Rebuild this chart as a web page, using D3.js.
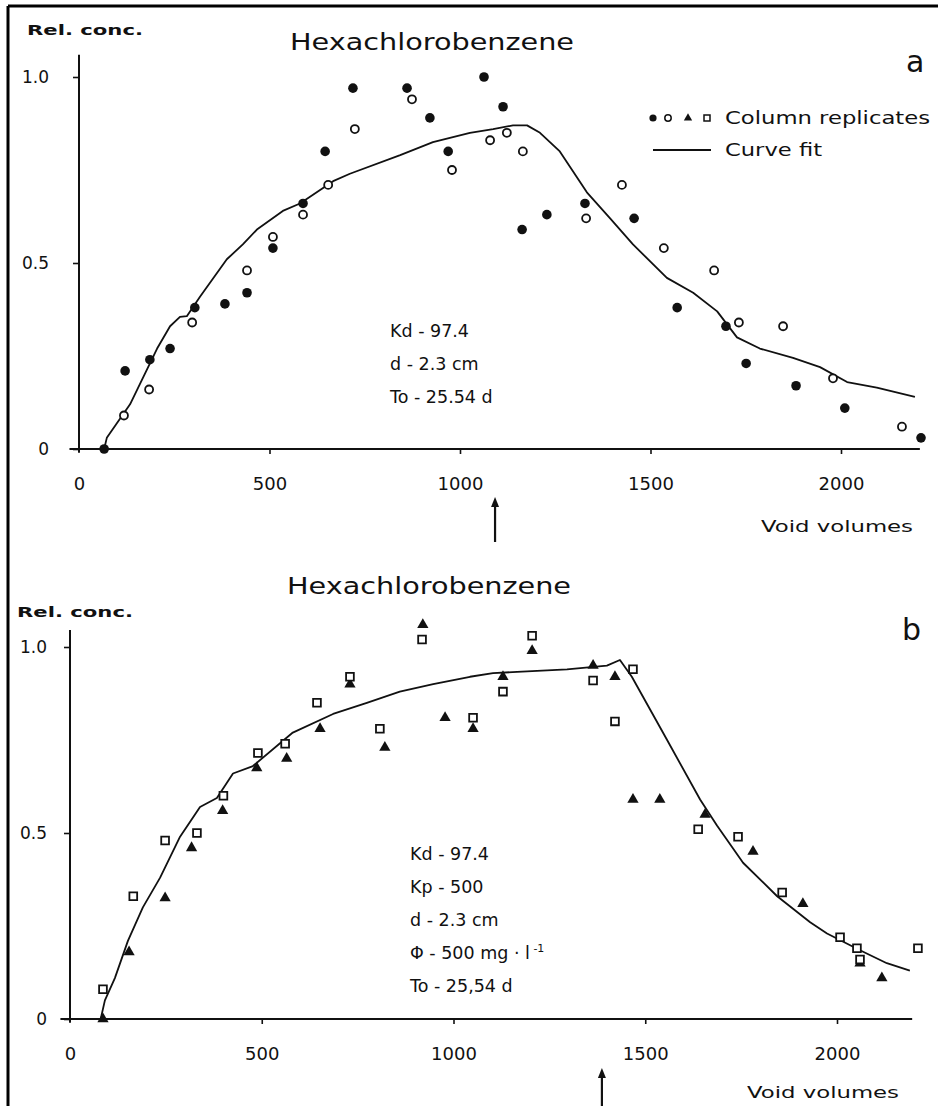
<!DOCTYPE html>
<html>
<head>
<meta charset="utf-8">
<script src="https://cdn.jsdelivr.net/npm/d3@7"></script>
<style>
  body { margin: 0; background: #fff; }
  svg text { font-family: "DejaVu Sans", sans-serif; fill: #111; }
</style>
</head>
<body>
<script>
// Chart setup
const w = 938;
const h = 1106;

// ---- panel a data ----
const aFilledX = [66, 121, 186, 239, 304, 383, 441, 509, 588, 646, 719, 861, 921, 969, 1063, 1113, 1163, 1228, 1328, 1457, 1570, 1698, 1751, 1882, 2010, 2210];
const aFilledY = [0, 0.21, 0.24, 0.27, 0.38, 0.39, 0.42, 0.54, 0.66, 0.80, 0.97, 0.97, 0.89, 0.80, 1.00, 0.92, 0.59, 0.63, 0.66, 0.62, 0.38, 0.33, 0.23, 0.17, 0.11, 0.03];
const aOpenX = [118, 184, 297, 441, 509, 588, 654, 724, 874, 979, 1079, 1123, 1165, 1331, 1425, 1535, 1667, 1732, 1848, 1979, 2160];
const aOpenY = [0.09, 0.16, 0.34, 0.48, 0.57, 0.63, 0.71, 0.86, 0.94, 0.75, 0.83, 0.85, 0.80, 0.62, 0.71, 0.54, 0.48, 0.34, 0.33, 0.19, 0.06];
const aFitX = [66, 73, 134, 205, 239, 265, 283, 318, 388, 430, 467, 535, 580, 667, 711, 843, 929, 1026, 1087, 1139, 1176, 1210, 1262, 1333, 1394, 1454, 1543, 1612, 1675, 1727, 1787, 1874, 1945, 2016, 2094, 2194];
const aFitY = [0, 0.03, 0.12, 0.27, 0.33, 0.355, 0.357, 0.41, 0.51, 0.55, 0.59, 0.64, 0.66, 0.72, 0.74, 0.79, 0.825, 0.85, 0.86, 0.87, 0.87, 0.85, 0.80, 0.69, 0.62, 0.55, 0.46, 0.42, 0.37, 0.30, 0.27, 0.245, 0.22, 0.18, 0.165, 0.14];
const aNotes = ["Kd - 97.4", "d - 2.3 cm", "To - 25.54 d"];
const aArrow = 1092;

// ---- panel b data ----
const bTriX = [86, 154, 248, 317, 398, 487, 565, 652, 730, 821, 920, 978, 1051, 1129, 1205, 1364, 1421, 1468, 1538, 1656, 1781, 1911, 2060, 2117];
const bTriY = [0, 0.18, 0.325, 0.46, 0.56, 0.675, 0.70, 0.78, 0.90, 0.73, 1.06, 0.81, 0.78, 0.92, 0.99, 0.95, 0.92, 0.59, 0.59, 0.55, 0.45, 0.31, 0.15, 0.11];
const bSqX = [86, 165, 248, 331, 400, 490, 561, 644, 730, 808, 918, 1051, 1129, 1205, 1364, 1421, 1468, 1638, 1742, 1857, 2008, 2052, 2060, 2211];
const bSqY = [0.08, 0.33, 0.48, 0.50, 0.60, 0.715, 0.74, 0.85, 0.92, 0.78, 1.02, 0.81, 0.88, 1.03, 0.91, 0.80, 0.94, 0.51, 0.49, 0.34, 0.22, 0.19, 0.16, 0.19];
const bFitX = [80, 91, 117, 151, 190, 235, 287, 339, 383, 425, 477, 581, 686, 774, 860, 947, 1043, 1103, 1166, 1296, 1400, 1434, 1465, 1557, 1643, 1687, 1755, 1844, 1930, 1974, 2060, 2130, 2190];
const bFitY = [0, 0.05, 0.11, 0.21, 0.30, 0.38, 0.49, 0.57, 0.594, 0.66, 0.68, 0.77, 0.82, 0.85, 0.88, 0.90, 0.92, 0.93, 0.933, 0.94, 0.95, 0.965, 0.92, 0.75, 0.59, 0.52, 0.42, 0.33, 0.26, 0.23, 0.185, 0.15, 0.13];
const bNotes = ["Kd - 97.4", "Kp - 500", "d - 2.3 cm", "Φ - 500 mg · l", "To - 25,54 d"];
const bArrow = 1387;

// shared tick labels
const xTicks = [0, 500, 1000, 1500, 2000];
const yTicks = [0, 0.5, 1.0];
const title = "Hexachlorobenzene";

const svg = d3.select("body")
    .append("svg")
    .attr("width", w)
    .attr("height", h)

// frame (top + left edge of the scanned page)
svg.append("line").attr("x1", 8).attr("x2", w).attr("y1", 6).attr("y2", 6)
    .attr("stroke", "#000").attr("stroke-width", 3)
svg.append("line").attr("x1", 8).attr("x2", 8).attr("y1", 6).attr("y2", h)
    .attr("stroke", "#000").attr("stroke-width", 3)

function zip(xs, ys) { return xs.map((x, i) => [x, ys[i]]) }

function drawPanel(p) {
    const x = d3.scaleLinear().domain([0, 2000]).range([p.x0, p.x2000])
    const y = d3.scaleLinear().domain([0, 1]).range([p.y0, p.y1])
    const g = svg.append("g")

    // axes lines
    g.append("line").attr("x1", x(-25)).attr("x2", x(p.xEnd))
        .attr("y1", y(0)).attr("y2", y(0)).attr("stroke", "#111").attr("stroke-width", 2)
    g.append("line").attr("x1", x(0)).attr("x2", x(0))
        .attr("y1", y(-0.01)).attr("y2", y(p.yTop)).attr("stroke", "#111").attr("stroke-width", 2)

    const xAxis = d3.axisBottom(x).tickValues(xTicks).tickSize(5).tickPadding(23).tickFormat(d3.format("d"))
    const yAxis = d3.axisLeft(y).tickValues(yTicks).tickSize(6).tickPadding(p.yPad)
        .tickFormat(d => d === 0 ? "0" : d.toFixed(1))

    const gx = g.append("g").attr("transform", `translate(0,${y(0)})`).call(xAxis)
    const gy = g.append("g").attr("transform", `translate(${x(0)},0)`).call(yAxis)
    for (const a of [gx, gy]) {
        a.select(".domain").remove()
        a.selectAll("line").attr("stroke", "#111").attr("stroke-width", 1.6)
        a.selectAll("text").attr("font-family", "DejaVu Sans").attr("fill", "#111")
    }
    gx.selectAll("text").attr("font-size", 18)
    gy.selectAll("text").attr("font-size", 17)
    gx.selectAll(".tick").filter(d => d === 0).select("line").remove()

    // curve fit
    g.append("path")
        .datum(zip(p.fitX, p.fitY))
        .attr("fill", "none").attr("stroke", "#111").attr("stroke-width", 1.8)
        .attr("stroke-linejoin", "round")
        .attr("d", d3.line().x(d => x(d[0])).y(d => y(d[1])))

    // replicate markers
    p.series.forEach(s => {
        const pts = zip(s.x, s.y)
        if (s.kind === "filled") {
            g.selectAll(null).data(pts).join("circle")
                .attr("cx", d => x(d[0])).attr("cy", d => y(d[1])).attr("r", 4.8).attr("fill", "#111")
        } else if (s.kind === "open") {
            g.selectAll(null).data(pts).join("circle")
                .attr("cx", d => x(d[0])).attr("cy", d => y(d[1])).attr("r", 4)
                .attr("fill", "#fff").attr("stroke", "#111").attr("stroke-width", 1.8)
        } else if (s.kind === "tri") {
            g.selectAll(null).data(pts).join("path")
                .attr("transform", d => `translate(${x(d[0])},${y(d[1])})`)
                .attr("d", d3.symbol(d3.symbolTriangle).size(55)).attr("fill", "#111")
        } else {
            g.selectAll(null).data(pts).join("path")
                .attr("transform", d => `translate(${x(d[0])},${y(d[1])})`)
                .attr("d", d3.symbol(d3.symbolSquare).size(60))
                .attr("fill", "#fff").attr("stroke", "#111").attr("stroke-width", 1.8)
        }
    })

    // texts
    g.append("text").attr("x", p.relX).attr("y", p.relY).attr("font-size", 14).attr("font-weight", "bold")
        .attr("textLength", 116).attr("lengthAdjust", "spacingAndGlyphs").text("Rel. conc.")
    g.append("text").attr("x", p.titleX).attr("y", p.titleY).attr("font-size", 23)
        .attr("textLength", 284).attr("lengthAdjust", "spacingAndGlyphs").text(title)
    g.append("text").attr("x", p.letterX).attr("y", p.letterY).attr("font-size", 30).text(p.letter)
    g.append("text").attr("x", p.vvX).attr("y", p.vvY).attr("font-size", 16)
        .attr("textLength", 152).attr("lengthAdjust", "spacingAndGlyphs").text("Void volumes")

    const notes = g.append("g")
    p.notes.forEach((t, i) => {
        const tx = notes.append("text").attr("x", p.noteX).attr("y", p.noteY + i * p.noteStep)
            .attr("font-size", 17.5).text(t)
        if (t.startsWith("Φ")) {
            tx.append("tspan").attr("dy", -7).attr("font-size", 11).text(" -1")
        }
    })

    // arrow marking the end of the pulse
    const ax = x(p.arrow)
    g.append("line").attr("x1", ax).attr("x2", ax).attr("y1", p.arrowTop + 6).attr("y2", p.arrowBot)
        .attr("stroke", "#111").attr("stroke-width", 2.2)
    g.append("path").attr("d", `M${ax - 4},${p.arrowTop + 10}L${ax},${p.arrowTop}L${ax + 4},${p.arrowTop + 10}Z`)
        .attr("fill", "#111")
    return { x, y, g }
}

// panel a
const pa = drawPanel({
    x0: 79, x2000: 841, y0: 449, y1: 77, xEnd: 2207, yTop: 1.06, yPad: 24,
    fitX: aFitX, fitY: aFitY,
    series: [{ kind: "filled", x: aFilledX, y: aFilledY }, { kind: "open", x: aOpenX, y: aOpenY }],
    relX: 27, relY: 35, titleX: 290, titleY: 50, letter: "a", letterX: 906, letterY: 72,
    vvX: 761, vvY: 532, notes: aNotes, noteX: 390, noteY: 337, noteStep: 33,
    arrow: aArrow, arrowTop: 497, arrowBot: 542
})

// legend in panel a
const lg = svg.append("g")
lg.append("circle").attr("cx", 653).attr("cy", 118).attr("r", 3.6).attr("fill", "#111")
lg.append("circle").attr("cx", 668).attr("cy", 118).attr("r", 3.2).attr("fill", "#fff").attr("stroke", "#111").attr("stroke-width", 1.5)
lg.append("path").attr("transform", "translate(688,118)").attr("d", d3.symbol(d3.symbolTriangle).size(30)).attr("fill", "#111")
lg.append("path").attr("transform", "translate(707,118)").attr("d", d3.symbol(d3.symbolSquare).size(36))
    .attr("fill", "#fff").attr("stroke", "#111").attr("stroke-width", 1.5)
lg.append("text").attr("x", 725).attr("y", 124).attr("font-size", 17)
    .attr("textLength", 205).attr("lengthAdjust", "spacingAndGlyphs").text("Column replicates")
lg.append("line").attr("x1", 653).attr("x2", 711).attr("y1", 150).attr("y2", 150)
    .attr("stroke", "#111").attr("stroke-width", 1.8)
lg.append("text").attr("x", 725).attr("y", 156).attr("font-size", 17)
    .attr("textLength", 97).attr("lengthAdjust", "spacingAndGlyphs").text("Curve fit")

// panel b
const pb = drawPanel({
    x0: 70, x2000: 837, y0: 1019, y1: 647, xEnd: 2196, yTop: 1.046, yPad: 17,
    fitX: bFitX, fitY: bFitY,
    series: [{ kind: "tri", x: bTriX, y: bTriY }, { kind: "square", x: bSqX, y: bSqY }],
    relX: 17, relY: 617, titleX: 287, titleY: 594, letter: "b", letterX: 902, letterY: 640,
    vvX: 747, vvY: 1098, notes: bNotes, noteX: 410, noteY: 860, noteStep: 33,
    arrow: bArrow, arrowTop: 1068, arrowBot: 1106
})
</script>
</body>
</html>
